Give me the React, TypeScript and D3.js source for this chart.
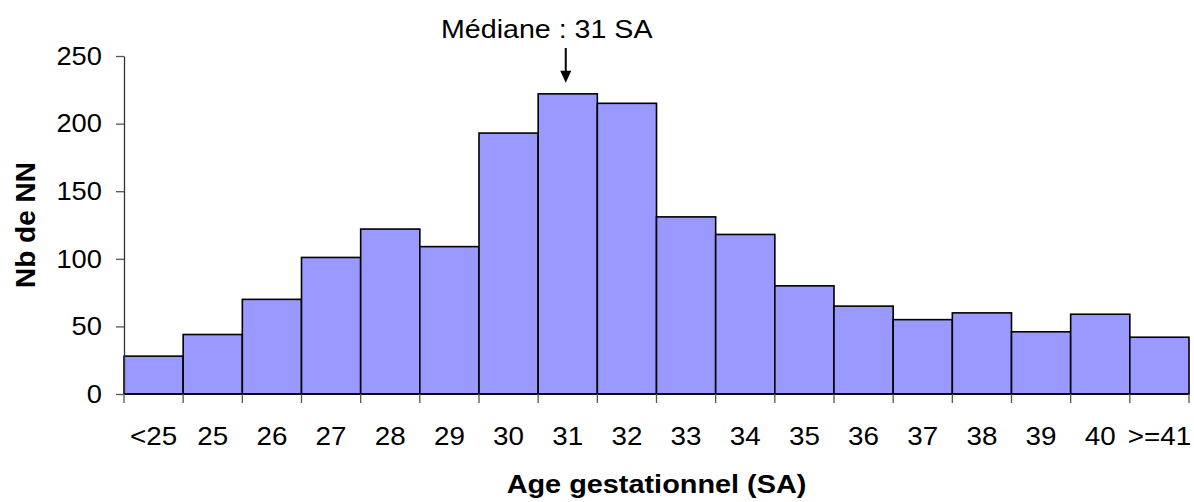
import React, { useEffect, useRef } from 'react'
import * as d3 from 'd3'

// categories (gestational age) and number of newborns
const categories = ['<25', '25', '26', '27', '28', '29', '30', '31', '32', '33', '34', '35', '36', '37', '38', '39', '40', '>=41']
const counts = [28, 44, 70, 101, 122, 109, 193, 222, 215, 131, 118, 80, 65, 55, 60, 46, 59, 42]
const yTicks = [0, 50, 100, 150, 200, 250]
const medianLabel = '31'

const App = () => {
	const ref = useRef<SVGSVGElement>(null)
	const width = 1194,
		height = 502
	const margin = { top: 56, right: 5, bottom: 108, left: 124 }

	useEffect(() => {
		const svg = d3.select(ref.current)
		svg.selectAll('*').remove()

		const font = 'Arial, "Liberation Sans", sans-serif'

		// text slightly wider than tall, like the original picture
		const addText = (parent, tx, ty, txt, sx, bold = false) =>
			parent
				.append('text')
				.attr('transform', 'translate(' + tx + ',' + ty + ') scale(' + sx + ',1)')
				.attr('text-anchor', 'middle')
				.attr('font-size', 26)
				.attr('font-weight', bold ? 'bold' : 'normal')
				.attr('font-family', font)
				.attr('fill', '#000')
				.text(txt)

		const x = d3
			.scaleBand()
			.domain(categories)
			.range([margin.left, width - margin.right])
			.padding(0)
		const y = d3
			.scaleLinear()
			.domain([0, 250])
			.range([height - margin.bottom, margin.top])

		// bars
		svg.append('g')
			.selectAll('rect')
			.data(counts)
			.enter()
			.append('rect')
			.attr('x', (d, i) => x(categories[i]))
			.attr('y', d => y(d))
			.attr('width', x.bandwidth())
			.attr('height', d => y(0) - y(d))
			.attr('fill', '#9999ff')
			.attr('stroke', '#000')
			.attr('stroke-width', 1.6)

		// y axis
		const yAxis = svg
			.append('g')
			.attr('transform', 'translate(' + margin.left + ',0)')
			.call(d3.axisLeft(y).tickValues(yTicks).tickSize(8).tickPadding(13).tickSizeOuter(0))
		yAxis.select('.domain').attr('stroke', '#333').attr('stroke-width', 1.3)
		yAxis.selectAll('line').attr('stroke', '#555').attr('stroke-width', 1.3)
		yAxis.selectAll('text')
			.attr('font-size', 26)
			.attr('font-family', font)
			.attr('fill', '#000')
			.attr('transform', 'scale(1.05,1)')

		// x axis: ticks on bin edges, labels at bin centers
		const xAxis = svg.append('g').attr('transform', 'translate(0,' + y(0) + ')')
		xAxis.append('line')
			.attr('x1', margin.left)
			.attr('x2', width - margin.right)
			.attr('stroke', '#000')
			.attr('stroke-width', 1.6)
		const edges = categories.map(c => x(c) as number).concat([width - margin.right])
		xAxis.selectAll('line.tick')
			.data(edges)
			.enter()
			.append('line')
			.attr('class', 'tick')
			.attr('x1', d => d)
			.attr('x2', d => d)
			.attr('y1', 0)
			.attr('y2', 9)
			.attr('stroke', '#555')
			.attr('stroke-width', 1.3)
		categories.forEach(c => {
			addText(xAxis, (x(c) as number) + x.bandwidth() / 2, 51, c, 1.07)
		})

		// axis titles
		addText(svg, (margin.left + width - margin.right) / 2, 493, 'Age gestationnel (SA)', 1.11, true)
		svg.append('text')
			.attr('transform', 'translate(35,' + (y(0) + y(250)) / 2 + ') rotate(-90)')
			.attr('text-anchor', 'middle')
			.attr('font-size', 28)
			.attr('font-weight', 'bold')
			.attr('font-family', font)
			.text('Nb de NN')

		// median annotation
		const mi = categories.indexOf(medianLabel)
		const mx = (x(medianLabel) as number) + x.bandwidth() / 2 - 2
		const tip = y(counts[mi]) - 11
		addText(svg, mx - 19, 38, 'Médiane : 31 SA', 1.1)
		svg.append('line')
			.attr('x1', mx)
			.attr('x2', mx)
			.attr('y1', 48)
			.attr('y2', tip - 10)
			.attr('stroke', '#000')
			.attr('stroke-width', 2)
		svg.append('path')
			.attr('d', d3.line()([[mx - 5.5, tip - 12], [mx + 5.5, tip - 12], [mx, tip]]) + 'Z')
			.attr('fill', '#000')
	}, [])

	return (
		<svg
			ref={ref}
			width={width}
			height={height}
			style={{ position: 'absolute', left: 0, top: 0, background: '#fff' }}
		></svg>
	)
}

export default App
